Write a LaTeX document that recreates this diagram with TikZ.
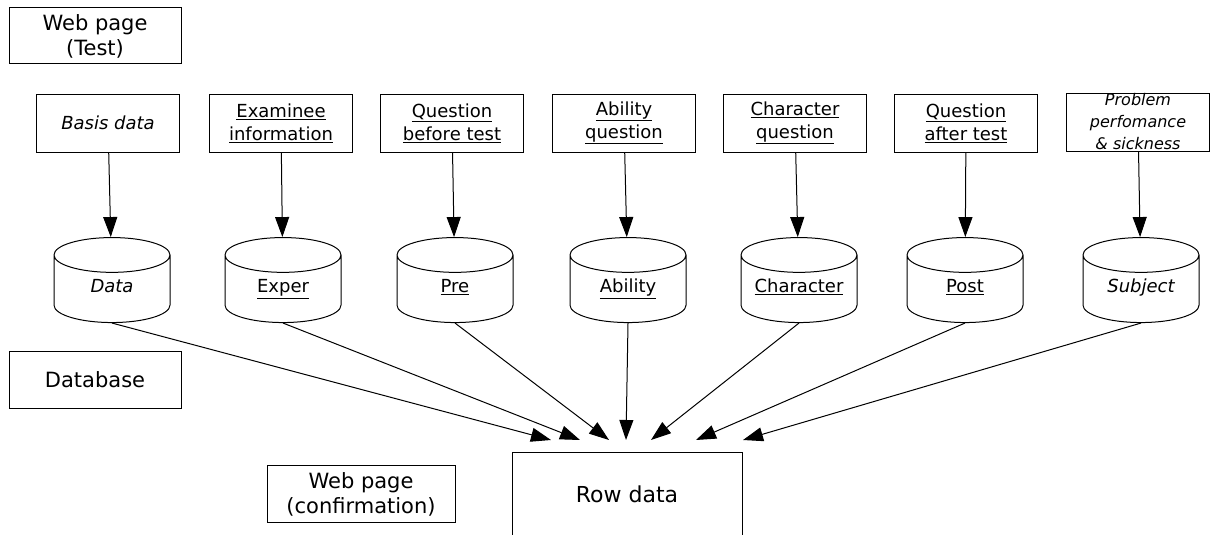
\documentclass[tikz,border=0pt]{standalone}
\usepackage{fontspec}
\setmainfont{DejaVu Sans}
\usetikzlibrary{shapes.geometric,arrows.meta}
\newcommand{\undl}[1]{\underline{#1}}
\tikzset{
  page/.style={draw,line width=1pt,align=center,inner sep=0pt,font=\fontsize{21}{25}\selectfont},
  form/.style={draw,line width=1pt,align=center,inner sep=0pt,minimum width=143pt,minimum height=58pt,font=\fontsize{18}{23}\selectfont},
  store/.style={draw,line width=1pt,cylinder,shape border rotate=90,aspect=0.3,inner sep=0pt,minimum width=116pt,minimum height=85pt,font=\fontsize{18}{23}\selectfont},
  feed/.style={line width=1pt,-{Triangle[length=20pt,width=14pt]}}
}
\begin{document}
\begin{tikzpicture}[x=1pt,y=-1pt]
\useasboundingbox (0,0) rectangle (1212,535);
\node[page,minimum width=172pt,minimum height=56pt] (webtest) at (95,36) {Web page\\(Test)};
\node[page,minimum width=172pt,minimum height=57pt] (dbase) at (95,380) {Database};
\node[page,minimum width=188pt,minimum height=57pt] (webconf) at (361,494) {Web page\\(confirmation)};
\foreach \n/\x/\t in {basis/108/{\itshape Basis data},
  exam/281/{\undl{Examinee}\\\undl{information}},
  qpre/452/{\undl{Question}\\\undl{before test}},
  qabil/624/{\undl{Ability}\\\undl{question}},
  qchar/795/{\undl{Character}\\\undl{question}},
  qpost/966/{\undl{Question}\\\undl{after test}}}
{
\node[form] (\n) at (\x,123) {\t};
}
\node[form,font=\fontsize{16}{22}\selectfont\itshape] (prob) at (1138,122) {Problem\\perfomance\\\& sickness};
\foreach \n/\x/\t in {data/112/{\itshape Data},
  exper/283/{\undl{Exper}},
  pre/455/{\undl{Pre}},
  abil/628/{\undl{Ability}},
  char/799/{\undl{Character}},
  post/965/{\undl{Post}},
  subj/1141/{\itshape Subject}}
{
\node[store] (\n) at (\x,289) {\makebox[116pt]{\raisebox{6pt}{\t}}};
}
\node[draw,line width=1pt,inner sep=0pt,minimum width=230pt,text height=50pt,text depth=60pt,anchor=north,font=\fontsize{22}{26}\selectfont] (row) at (627,452) {Row data};
\foreach \a/\b in {basis/data,exam/exper,qpre/pre,qabil/abil,qchar/char,qpost/post,prob/subj}
{
\draw[feed] (\a) -- (\b);
}
\foreach \b/\x in {data/551,exper/580,pre/609,abil/626,char/651,post/696,subj/743}
{
\coordinate (\b-in) at (\x,440);
\draw[feed] (\b.south) -- (\b-in);
}
\end{tikzpicture}
\end{document}
